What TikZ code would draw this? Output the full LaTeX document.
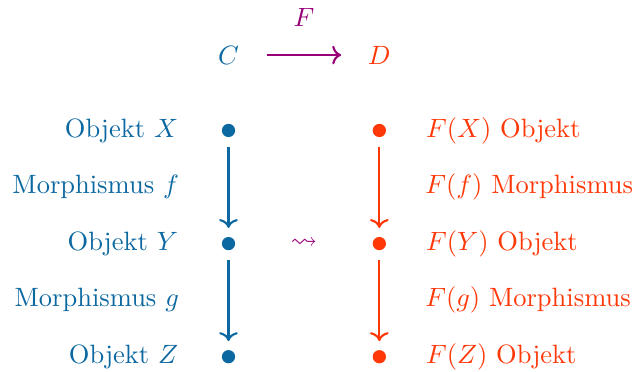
\documentclass[tikz,border=0pt]{standalone}
\usepackage{amsmath,amssymb,xcolor}
\usepackage{tikz}
\usetikzlibrary{arrows.meta,positioning}
\definecolor{catblue}{RGB}{12,104,160}
\definecolor{catred}{RGB}{255,56,8}
\definecolor{funpurple}{RGB}{153,0,119}

\begin{document}
\begin{tikzpicture}[
  dot/.style={circle,fill,inner sep=0pt,minimum size=5pt},
  cat/.style={minimum width=10mm,inner sep=0pt},
  mor/.style={->,thick,shorten <=3.5pt,shorten >=3.2pt},
  >={To}]
  \useasboundingbox (-3.03,-3.2) rectangle (5.39,1.73);
  % categories and functor
  \node[cat,text=catblue] (C) at (0,1) {$C$};
  \node[cat,text=catred] (D) at (2,1) {$D$};
  \draw[->,thick,funpurple] (C.east) -- node[above=7pt]{$F$} (D.west);
  % objects in C
  \node[dot,catblue] (X) at (0,0) {};
  \node[dot,catblue] (Y) at (0,-1.5) {};
  \node[dot,catblue] (Z) at (0,-3) {};
  \node[catblue,left=4.5mm of X] (lX) {Objekt $X$};
  \node[catblue,left=4.5mm of Y] (lY) {Objekt $Y$};
  \node[catblue,left=4.5mm of Z] (lZ) {Objekt $Z$};
  \draw[mor,catblue] (X) -- node[left=15pt]{Morphismus $f$} (Y);
  \draw[mor,catblue] (Y) -- node[left=15pt]{Morphismus $g$} (Z);
  % images in D
  \node[dot,catred] (FX) at (2,0) {};
  \node[dot,catred] (FY) at (2,-1.5) {};
  \node[dot,catred] (FZ) at (2,-3) {};
  \node[catred,right=4mm of FX] (lFX) {$F(X)$ Objekt};
  \node[catred,right=4mm of FY] (lFY) {$F(Y)$ Objekt};
  \node[catred,right=4mm of FZ] (lFZ) {$F(Z)$ Objekt};
  \draw[mor,catred] (FX) -- node[right=13.6pt]{$F(f)$ Morphismus} (FY);
  \draw[mor,catred] (FY) -- node[right=13.6pt]{$F(g)$ Morphismus} (FZ);
  \node[text=funpurple] (sq) at (1,-1.5) {$\rightsquigarrow$};
\end{tikzpicture}
\end{document}
